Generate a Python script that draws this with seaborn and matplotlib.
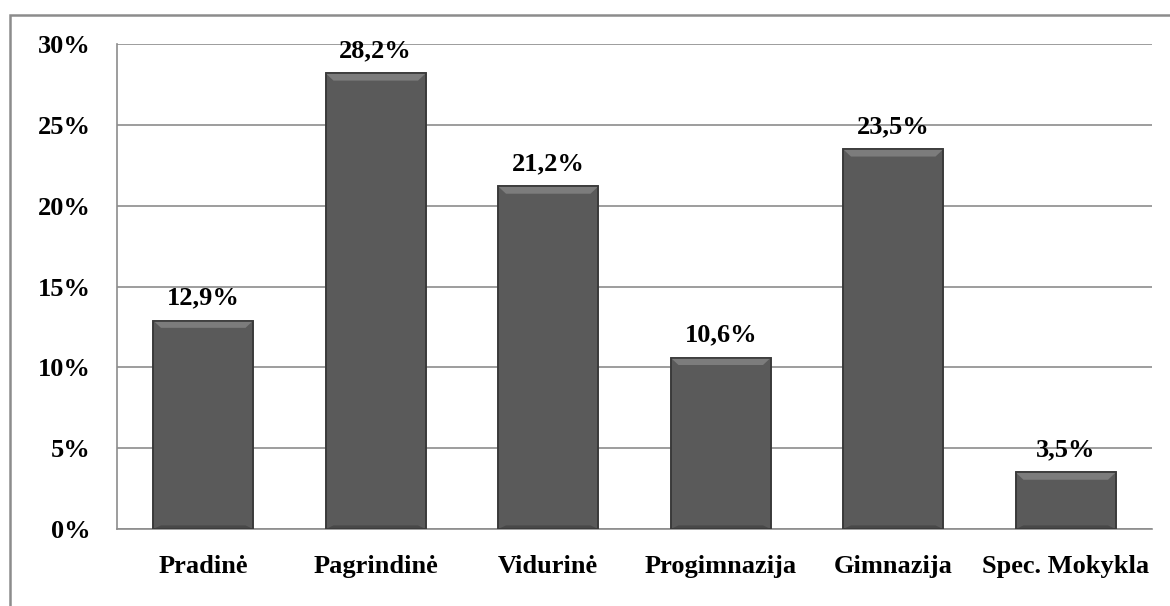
import matplotlib
matplotlib.use("Agg")
import matplotlib.pyplot as plt
import matplotlib.ticker as mticker
from matplotlib.patches import Rectangle, Polygon
import pandas as pd
import seaborn as sns

categories = ["Pradinė", "Pagrindinė", "Vidurinė", "Progimnazija", "Gimnazija", "Spec. Mokykla"]
shares = [12.9, 28.2, 21.2, 10.6, 23.5, 3.5]
y_ticks = [0, 5, 10, 15, 20, 25, 30]

sns.set_theme(style="white")
plt.rcParams["font.family"] = ["Liberation Serif", "DejaVu Serif"]
plt.rcParams["font.weight"] = "bold"
plt.rcParams["text.color"] = "black"
plt.rcParams["xtick.color"] = "black"
plt.rcParams["ytick.color"] = "black"

df = pd.DataFrame({"type": categories, "share": shares})

fig = plt.figure(figsize=(11.7, 6.06), dpi=100)
ax = fig.add_axes([0.1, 0.127, 0.8846, 0.8])

sns.barplot(data=df, x="type", y="share", color="#5a5a5a", width=0.58,
            edgecolor="#3a3a3a", linewidth=1.2, saturation=1, ax=ax, zorder=3)

ax.set_ylim(0, 30)
ax.set_yticks(y_ticks)
ax.yaxis.set_major_formatter(mticker.FuncFormatter(lambda v, _: f"{v:.0f}%"))
ax.grid(axis="y", color="#8c8c8c", linewidth=1.2, zorder=0)
ax.set_xlabel("")
ax.set_ylabel("")
ax.tick_params(axis="both", length=0, labelsize=19, labelcolor="black")
ax.tick_params(axis="x", pad=19)
ax.tick_params(axis="y", pad=19)
for lbl in ax.get_xticklabels() + ax.get_yticklabels():
    lbl.set_fontweight("bold")
for side in ["top", "right"]:
    ax.spines[side].set_visible(False)
for side in ["left", "bottom"]:
    ax.spines[side].set_color("#8c8c8c")
    ax.spines[side].set_linewidth(1.2)

# bevel look on each bar: light top edge, darker bottom edge
bev_y = 0.45
bev_x = 0.045
for p in ax.patches[:len(shares)]:
    x0, x1 = p.get_x(), p.get_x() + p.get_width()
    top = p.get_height()
    h = min(bev_y, top / 3)
    ax.add_patch(Polygon([(x0, top), (x1, top), (x1 - bev_x, top - h), (x0 + bev_x, top - h)],
                         closed=True, facecolor="#7c7c7c", edgecolor="none", zorder=4))
    ax.add_patch(Polygon([(x0, 0), (x1, 0), (x1 - bev_x, h * 0.5), (x0 + bev_x, h * 0.5)],
                         closed=True, facecolor="#484848", edgecolor="none", zorder=4))
    ax.add_patch(Rectangle((x0, 0), x1 - x0, top, facecolor="none",
                           edgecolor="#3a3a3a", linewidth=1.2, zorder=5))

for p, v in zip(ax.patches, shares):
    ax.annotate(f"{v:.1f}%".replace(".", ","), (p.get_x() + p.get_width() / 2, v),
                xytext=(0, 8), textcoords="offset points", ha="center", va="bottom",
                fontsize=19, fontweight="bold", color="black", zorder=6)

fig.patches.append(Rectangle((10 / 1170, -0.05), 1.2, 1 - 15 / 606 + 0.05,
                             transform=fig.transFigure, fill=False,
                             edgecolor="#8c8c8c", linewidth=1.8))

fig.savefig("out.png", dpi=100)
